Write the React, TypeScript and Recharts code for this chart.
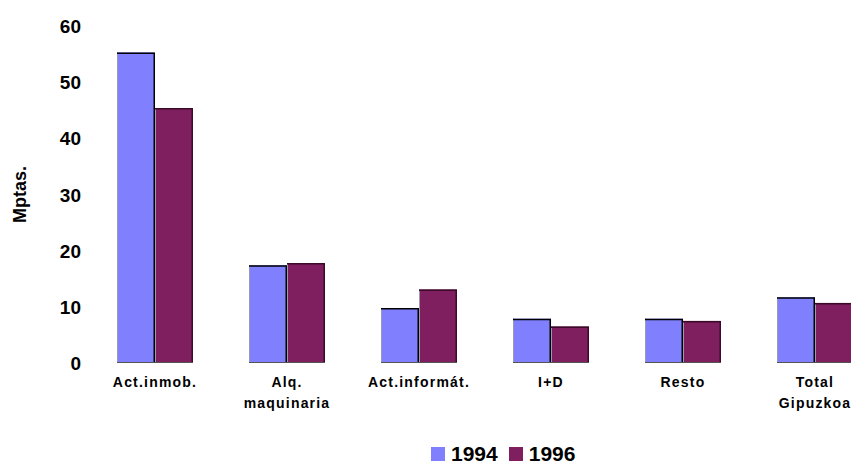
import React from 'react';
import { BarChart, Bar, XAxis, YAxis, Legend } from 'recharts';

const categories = ['Act.inmob.', 'Alq.\nmaquinaria', 'Act.informát.', 'I+D', 'Resto', 'Total\nGipuzkoa'];
const values1994 = [55.3, 17.4, 9.8, 7.9, 7.9, 11.7];
const values1996 = [45.4, 17.8, 13.1, 6.5, 7.5, 10.7];
const yTicks = [0, 10, 20, 30, 40, 50, 60];
const seriesNames = ['1994', '1996'];
const colors = ['#8080FF', '#7F1F5F'];

const data = categories.map((c, i) => ({ name: c, v1994: values1994[i], v1996: values1996[i] }));

const FONT = '"Liberation Sans", Arial, sans-serif';

const BarShape = (props: any) => {
  const { x, y, width, height, fill, edge } = props;
  if (!height || height <= 0) return null;
  return (
    <g>
      <rect x={x} y={y} width={width} height={height} fill={fill} />
      <line x1={x + 0.5} y1={y} x2={x + 0.5} y2={y + height} stroke="#9a9ab0" strokeWidth={1} />
      <path d={`M${x},${y + 0.75} L${x + width - 0.75},${y + 0.75} L${x + width - 0.75},${y + height}`} fill="none" stroke={edge} strokeWidth={1.5} />
      <line x1={x} y1={y + height - 0.5} x2={x + width} y2={y + height - 0.5} stroke="#555" strokeWidth={1} />
    </g>
  );
};

const XTick = (props: any) => {
  const { x, y, payload } = props;
  const lines = String(payload.value).split('\n');
  return (
    <g transform={`translate(${x},${y})`}>
      {lines.map((l, i) => (
        <text key={i} x={0} y={0} dy={i * 21 + 16} textAnchor="middle" fontFamily={FONT} fontWeight="bold" fontSize={14} fill="#000" style={{ letterSpacing: '1.2px' }}>
          {l}
        </text>
      ))}
    </g>
  );
};

const YTick = (props: any) => {
  const { x, y, payload } = props;
  return (
    <text x={x} y={y} dy={7} textAnchor="end" fontFamily={FONT} fontWeight="bold" fontSize={19} fill="#000">
      {payload.value}
    </text>
  );
};

const LegendContent = () => (
  <div style={{ display: 'flex', alignItems: 'center', fontFamily: FONT, fontWeight: 'bold', fontSize: 21, color: '#000' }}>
    {seriesNames.map((n, i) => (
      <div key={n} style={{ display: 'flex', alignItems: 'center', marginRight: 11 }}>
        <div style={{ width: 14, height: 14, background: colors[i], marginRight: 6 }} />
        <span>{n}</span>
      </div>
    ))}
  </div>
);

export default function App() {
  return (
    <div style={{ position: 'absolute', left: 0, top: 0, width: 851, height: 464, overflow: 'hidden', background: '#fff' }}>
      <BarChart width={900} height={464} data={data} margin={{ top: 26, right: 19, bottom: 0, left: 0 }} barGap={0} barSize={38}>
        <XAxis dataKey="name" axisLine={false} tickLine={false} tick={<XTick />} interval={0} height={77} />
        <YAxis domain={[0, 60]} ticks={yTicks} axisLine={false} tickLine={false} tick={<YTick />} width={89}
          label={{ value: 'Mptas.', angle: -90, position: 'insideLeft', offset: 20, style: { fontFamily: FONT, fontWeight: 'bold', fontSize: 18, fill: '#000', textAnchor: 'middle' } }} />
        <Legend content={<LegendContent />} wrapperStyle={{ position: 'absolute', left: 431, top: 442, width: 'auto' }} />
        <Bar dataKey="v1994" name="1994" fill={colors[0]} isAnimationActive={false} shape={<BarShape edge="#000" />} />
        <Bar dataKey="v1996" name="1996" fill={colors[1]} isAnimationActive={false} shape={<BarShape edge="#3a0a28" />} />
      </BarChart>
    </div>
  );
}
